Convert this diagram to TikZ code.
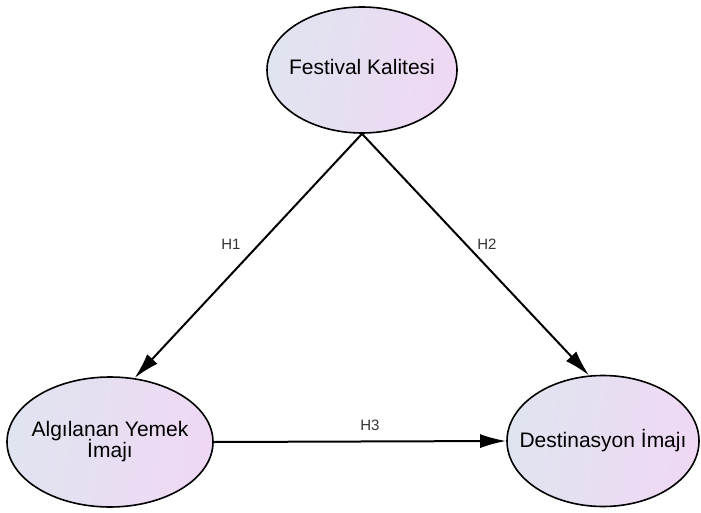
\documentclass[tikz,border=0pt]{standalone}
\usepackage{fontspec}
\setmainfont{Liberation Sans}
\usepackage{tikz}
\usetikzlibrary{shapes.geometric, arrows.meta, positioning}
\definecolor{fillleft}{HTML}{E0E4F0}
\definecolor{fillright}{HTML}{EFD8F4}
% keep the ellipse size independent of the text width
\newcommand{\ctext}[1]{\makebox[0pt]{\begin{tabular}{@{}c@{}}#1\end{tabular}}}
\tikzset{
    construct/.style={
        ellipse,
        draw=black,
        line width=1.6pt,
        left color=fillleft,
        right color=fillright,
        shading angle=80,
        inner sep=0pt,
        font=\fontsize{21}{20}\selectfont
    },
    path/.style={
        draw=black,
        line width=2pt,
        -{Latex[length=26pt,width=14pt]}
    },
    hlabel/.style={
        font=\fontsize{15}{16}\selectfont,
        text=black!80
    }
}
\begin{document}
\begin{tikzpicture}[x=1pt, y=-1pt]
\useasboundingbox (0,0) rectangle (701,513);

\node[construct, minimum width=190pt, minimum height=126pt] (fk) at (362,70) {\ctext{Festival Kalitesi}};
\node[construct, minimum width=206pt, minimum height=130pt] (ay) at (110,442) {\ctext{Algılanan Yemek\\[-3pt]İmajı}};
\node[construct, minimum width=192pt, minimum height=131pt] (di) at (603,441) {\ctext{Destinasyon İmajı}};

\draw[path] (fk.south) -- (ay.69);
\draw[path] (fk.south) -- (di.102);
\draw[path] (ay.east) -- (di.west);

\node[hlabel] (h1) at (231,244) {H1};
\node[hlabel] (h2) at (487,244) {H2};
\node[hlabel] (h3) at (370,425) {H3};

\end{tikzpicture}
\end{document}
